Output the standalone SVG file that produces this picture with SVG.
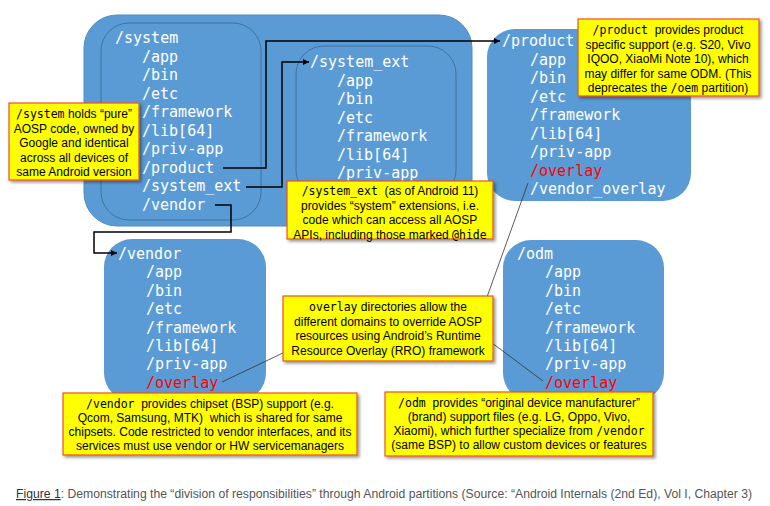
<svg xmlns="http://www.w3.org/2000/svg" width="770" height="506" viewBox="0 0 770 506">
<defs>
  <marker id="arr" markerWidth="6" markerHeight="6" refX="6" refY="3" orient="auto" markerUnits="userSpaceOnUse">
    <path d="M0,0 L6,3 L0,6 z" fill="#000"/>
  </marker>
  <filter id="sh" x="-10%" y="-10%" width="130%" height="140%">
    <feDropShadow dx="2" dy="2" stdDeviation="1.5" flood-color="#000" flood-opacity="0.4"/>
  </filter>
</defs>
<style>
  .box { fill: #5b9bd5; }
  .outer { stroke: #4f8cc6; stroke-width: 1; }
  .inner { fill: none; stroke: #41719c; stroke-width: 1; }
  .dir { font-family: "DejaVu Sans Mono", monospace; font-size: 15px; fill: #fff; }
  .red { fill: #ff0000; }
  .co { fill: #ffff00; stroke: #f04e23; stroke-width: 1.2; filter: url(#sh); }
  .ct { font-family: "Liberation Sans", Arial, sans-serif; font-size: 12px; fill: #000; text-anchor: middle; }
  .m { font-family: "DejaVu Sans Mono", monospace; font-size: 11.5px; }
  .conn { fill: none; stroke: #000; stroke-width: 1.5; }
  .lead { fill: none; stroke: #333; stroke-width: 0.8; }
  .cap { font-family: "Liberation Sans", Arial, sans-serif; font-size: 12.5px; fill: #555; }
</style>

<g id="system-partition">
  <rect class="box outer" x="84" y="15" width="388" height="211" rx="33"/>
</g>

<g id="system">
  <rect class="inner" x="101" y="23" width="160" height="197" rx="28"/>
  <text class="dir" x="115" y="43">/system</text>
  <text class="dir" x="142" y="61.5">/app</text>
  <text class="dir" x="142" y="80">/bin</text>
  <text class="dir" x="142" y="98.5">/etc</text>
  <text class="dir" x="142" y="117">/framework</text>
  <text class="dir" x="142" y="135.5">/lib[64]</text>
  <text class="dir" x="142" y="154">/priv-app</text>
  <text class="dir" x="142" y="172.5">/product</text>
  <text class="dir" x="142" y="191">/system_ext</text>
  <text class="dir" x="142" y="209.5">/vendor</text>
</g>

<g id="system_ext">
  <rect class="inner" x="296" y="46" width="160" height="152" rx="28"/>
  <text class="dir" x="310" y="67">/system_ext</text>
  <text class="dir" x="337" y="85.5">/app</text>
  <text class="dir" x="337" y="104">/bin</text>
  <text class="dir" x="337" y="122.5">/etc</text>
  <text class="dir" x="337" y="141">/framework</text>
  <text class="dir" x="337" y="159.5">/lib[64]</text>
  <text class="dir" x="337" y="178">/priv-app</text>
</g>

<g id="product">
  <rect class="box" x="487" y="29" width="204" height="172" rx="28"/>
  <text class="dir" x="502" y="46">/product</text>
  <text class="dir" x="530" y="64.5">/app</text>
  <text class="dir" x="530" y="83">/bin</text>
  <text class="dir" x="530" y="101.5">/etc</text>
  <text class="dir" x="530" y="120">/framework</text>
  <text class="dir" x="530" y="138.5">/lib[64]</text>
  <text class="dir" x="530" y="157">/priv-app</text>
  <text class="dir red" x="530" y="175.5">/overlay</text>
  <text class="dir" x="530" y="194">/vendor_overlay</text>
</g>

<g id="vendor">
  <rect class="box" x="104" y="239" width="162" height="162" rx="28"/>
  <text class="dir" x="118" y="259">/vendor</text>
  <text class="dir" x="146" y="277.4">/app</text>
  <text class="dir" x="146" y="295.8">/bin</text>
  <text class="dir" x="146" y="314.2">/etc</text>
  <text class="dir" x="146" y="332.6">/framework</text>
  <text class="dir" x="146" y="351">/lib[64]</text>
  <text class="dir" x="146" y="369.4">/priv-app</text>
  <text class="dir red" x="146" y="387.8">/overlay</text>
</g>

<g id="odm">
  <rect class="box" x="503" y="240" width="161" height="161" rx="28"/>
  <text class="dir" x="517" y="259">/odm</text>
  <text class="dir" x="545" y="277.4">/app</text>
  <text class="dir" x="545" y="295.8">/bin</text>
  <text class="dir" x="545" y="314.2">/etc</text>
  <text class="dir" x="545" y="332.6">/framework</text>
  <text class="dir" x="545" y="351">/lib[64]</text>
  <text class="dir" x="545" y="369.4">/priv-app</text>
  <text class="dir red" x="545" y="387.8">/overlay</text>
</g>

<g id="connectors">
  <polyline class="conn" points="223,168 266,168 266,41 500,41" marker-end="url(#arr)"/>
  <polyline class="conn" points="246,187 282,187 282,62 309,62" marker-end="url(#arr)"/>
  <polyline class="conn" points="215,205 231,205 231,232 94,232 94,253 117,253" marker-end="url(#arr)"/>
  <line class="lead" x1="528" y1="183" x2="487" y2="297"/>
  <line class="lead" x1="488" y1="340" x2="543" y2="381"/>
  <line class="lead" x1="285" y1="352" x2="222" y2="382"/>
</g>

<g id="note-system">
  <rect class="co" x="9" y="103" width="130" height="77"/>
  <text class="ct" x="74" y="118"><tspan class="m">/system</tspan> holds “pure”</text>
  <text class="ct" x="74" y="132.5">AOSP code, owned by</text>
  <text class="ct" x="74" y="147">Google and identical</text>
  <text class="ct" x="74" y="161.5">across all devices of</text>
  <text class="ct" x="74" y="176">same Android version</text>
</g>

<g id="note-product">
  <rect class="co" x="578" y="19" width="181" height="77"/>
  <text class="ct" x="668" y="34"><tspan class="m">/product</tspan>&#160; provides product</text>
  <text class="ct" x="668" y="48.5">specific support (e.g. S20, Vivo</text>
  <text class="ct" x="668" y="63">IQOO, XiaoMi Note 10), which</text>
  <text class="ct" x="668" y="77.5">may differ for same ODM. (This</text>
  <text class="ct" x="668" y="92">deprecates the <tspan class="m">/oem</tspan> partition)</text>
</g>

<g id="note-system_ext">
  <rect class="co" x="287" y="181" width="206" height="58"/>
  <text class="ct" x="390" y="195"><tspan class="m">/system_ext</tspan>&#160; (as of Android 11)</text>
  <text class="ct" x="390" y="209.5">provides “system” extensions, i.e.</text>
  <text class="ct" x="390" y="224">code which can access all AOSP</text>
  <text class="ct" x="390" y="238.5">APIs, including those marked <tspan class="m">@hide</tspan></text>
</g>

<g id="note-overlay">
  <rect class="co" x="283" y="296" width="210" height="65"/>
  <text class="ct" x="388" y="311"><tspan class="m">overlay</tspan> directories allow the</text>
  <text class="ct" x="388" y="325.5">different domains to override AOSP</text>
  <text class="ct" x="388" y="340">resources using Android’s Runtime</text>
  <text class="ct" x="388" y="354.5">Resource Overlay (RRO) framework</text>
</g>

<g id="note-vendor">
  <rect class="co" x="63" y="393" width="294" height="62"/>
  <text class="ct" x="210" y="407.5"><tspan class="m">/vendor</tspan>&#160; provides chipset (BSP) support (e.g.</text>
  <text class="ct" x="210" y="421.5">Qcom, Samsung, MTK)&#160; which is shared for same</text>
  <text class="ct" x="210" y="435.5">chipsets. Code restricted to vendor interfaces, and its</text>
  <text class="ct" x="210" y="449.5">services must use vendor or HW servicemanagers</text>
</g>

<g id="note-odm">
  <rect class="co" x="385" y="392" width="268" height="64"/>
  <text class="ct" x="519" y="406.5"><tspan class="m">/odm</tspan>&#160; provides “original device manufacturer”</text>
  <text class="ct" x="519" y="420.5">(brand) support files (e.g. LG, Oppo, Vivo,</text>
  <text class="ct" x="519" y="434.5">Xiaomi), which further specialize from <tspan class="m">/vendor</tspan></text>
  <text class="ct" x="519" y="448.5">(same BSP) to allow custom devices or features</text>
</g>

<g id="caption">
  <text class="cap" x="16" y="498" textLength="736" lengthAdjust="spacingAndGlyphs"><tspan fill="#333" text-decoration="underline">Figure 1</tspan>: Demonstrating the “division of responsibilities” through Android partitions (Source: “Android Internals (2nd Ed), Vol I, Chapter 3)</text>
</g>
</svg>
